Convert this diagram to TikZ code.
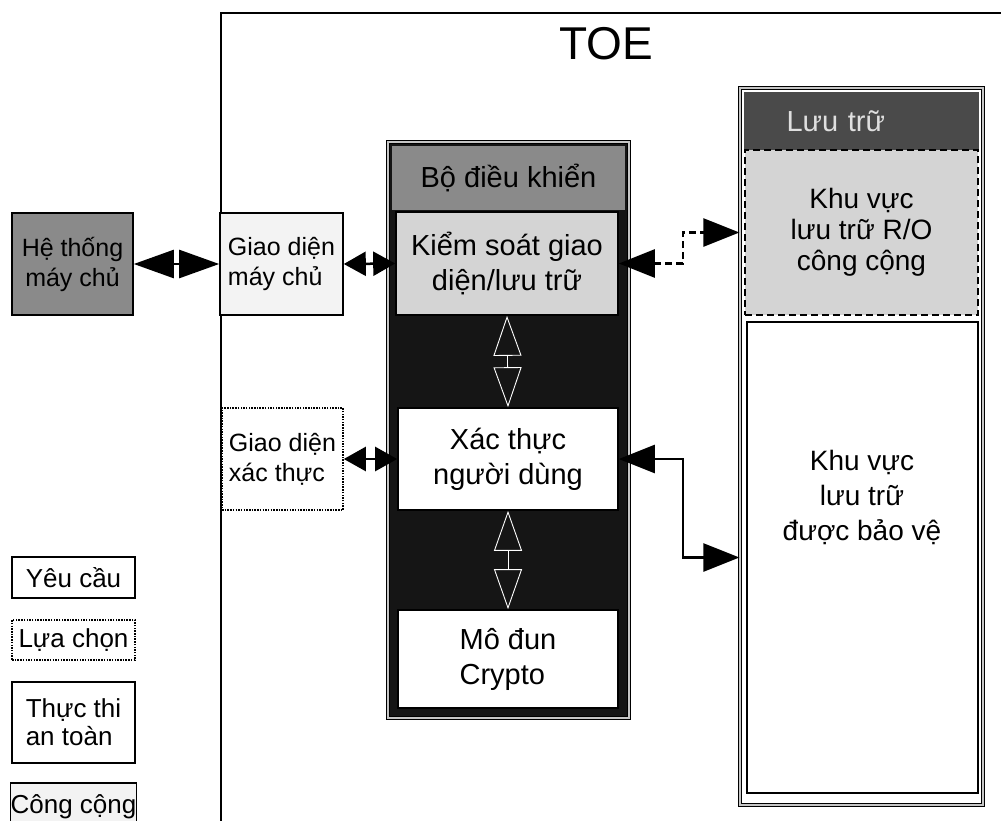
\documentclass[tikz,border=0pt]{standalone}
\usepackage{fontspec}
\setmainfont{Liberation Sans}
\usepackage{xcolor}
\usetikzlibrary{arrows.meta}
\definecolor{KopfGrau}{HTML}{8A8A8A}
\definecolor{KopfDunkel}{HTML}{4A4A4A}
\definecolor{BandSchwarz}{HTML}{151515}
\definecolor{FeldGrau}{HTML}{D4D4D4}
\definecolor{FeldHell}{HTML}{F3F3F3}

\begin{document}
\begin{tikzpicture}[x=1pt, y=-1pt,
  kasten/.style={draw=black, line width=1.6pt, inner sep=0pt, align=center},
  gross/.style={font=\fontsize{29}{35}\selectfont},
  mittel/.style={font=\fontsize{25}{30}\selectfont},
  legende/.style={font=\fontsize{26}{28}\selectfont},
  optional/.style={dash pattern=on 1.5pt off 1.2pt},
  gestrichelt/.style={dash pattern=on 7pt off 4pt},
  doppelt/.style={draw=black, line width=1.2pt, double=gray!45, double distance=2.5pt, inner sep=0pt},
  pfeilgross/.style={line width=2.5pt, {Triangle[length=40pt,width=28pt]}-{Triangle[length=40pt,width=28pt]}},
  pfeil/.style={line width=2.5pt, {Triangle[length=22pt,width=24pt]}-{Triangle[length=22pt,width=24pt]}},
  pfeilhohl/.style={white, line width=0.9pt, {Triangle[open,length=40pt,width=28pt]}-{Triangle[open,length=40pt,width=28pt]}},
  pfeilspeicher/.style={line width=2.5pt, {Triangle[length=36pt,width=28pt]}-{Triangle[length=36pt,width=28pt]}}]

  % Seitenrahmen (1001 x 820 px)
  \useasboundingbox (0,0) rectangle (1001,820);
  \clip (0,0) rectangle (1001,820);
  \fill[white] (0,0) rectangle (1001,820);

  % TOE-Rahmen (rechts und unten offen)
  \node[draw, line width=1.5pt, minimum width=820, minimum height=840, anchor=north west] (toe) at (220,12) {};
  \node[font=\fontsize{46}{46}\selectfont] (toetitel) at (606,44) {TOE};

  % Hostsystem und Schnittstellen
  \node[kasten, gross, fill=KopfGrau, mittel, minimum width=121, minimum height=102] (host) at (72.5,264) {Hệ thống\\máy chủ};
  \node[kasten, mittel, fill=FeldHell, align=left, minimum width=123, minimum height=102] (giaomc) at (281.5,264) {Giao diện\\máy chủ};
  \node[kasten, optional, mittel, fill=white, align=left, minimum width=121, minimum height=102] (giaoxt) at (282.5,459) {Giao diện\\xác thực};

  % Steuerung (Bo dieu khien)
  \node[doppelt, fill=BandSchwarz, minimum width=241, minimum height=576] (ctrl) at (508.5,430) {};
  \node[fill=KopfGrau, gross, inner sep=0pt, minimum width=233, minimum height=64] (ctrlkopf) at (508.5,178) {Bộ điều khiển};
  \node[kasten, gross, fill=FeldGrau, minimum width=222, minimum height=103] (kiem) at (507,263.5) {Kiểm soát giao\\diện/lưu trữ};
  \node[kasten, gross, fill=white, minimum width=220, minimum height=102] (xac) at (508,459) {Xác thực\\người dùng};
  \node[kasten, gross, fill=white, align=left, minimum width=220, minimum height=98] (crypto) at (508,659) {Mô đun\\Crypto};

  % Speicher (Luu tru)
  \node[doppelt, fill=white, minimum width=243, minimum height=717] (speicher) at (861.5,446.5) {};
  \node[fill=KopfDunkel, text=gray!25, gross, inner sep=0pt, text width=150, align=left, minimum width=235, minimum height=58] (speicherkopf) at (861.5,121) {Lưu trữ};
  \node[kasten, gestrichelt, gross, fill=FeldGrau, font=\fontsize{28}{31}\selectfont, minimum width=233, minimum height=165] (ro) at (861.5,232.5) {Khu vực\\lưu trữ R/O\\công cộng};
  \node[kasten, fill=white, font=\fontsize{28}{35}\selectfont, minimum width=231, minimum height=471] (schutz) at (862.5,557.5) {};
  \node[font=\fontsize{28}{35}\selectfont, align=center] (schutztext) at (862,497) {Khu vực\\lưu trữ\\được bảo vệ};

  % Verbindungen
  \draw[pfeilgross] (host.east) -- (giaomc.west);
  \draw[pfeil] (giaomc.east) -- (kiem.west);
  \draw[pfeil] (giaoxt.east) -- (xac.west);
  \draw[pfeilhohl] (kiem.south) -- (xac.north);
  \draw[pfeilhohl] (xac.south) -- (crypto.north);
  \draw[pfeilspeicher, gestrichelt] (kiem.east) -- ++(64,0) |- (speicher.west |- ro.west);
  \draw[pfeilspeicher] (xac.east) -- ++(64,0) |- (speicher.west |- schutz.west);

  % Legende
  \node[kasten, legende, minimum width=123, minimum height=41] (legyc) at (73.5,577.5) {Yêu cầu};
  \node[kasten, optional, legende, minimum width=123, minimum height=40] (leglc) at (73.5,640) {Lựa chọn};
  \node[kasten, legende, align=left, minimum width=123, minimum height=81] (legtt) at (73.5,722.5) {Thực thi\\an toàn};
  \node[kasten, legende, fill=FeldHell, minimum width=123, minimum height=48] (legcc) at (73.5,807) {Công cộng};

\end{tikzpicture}
\end{document}
